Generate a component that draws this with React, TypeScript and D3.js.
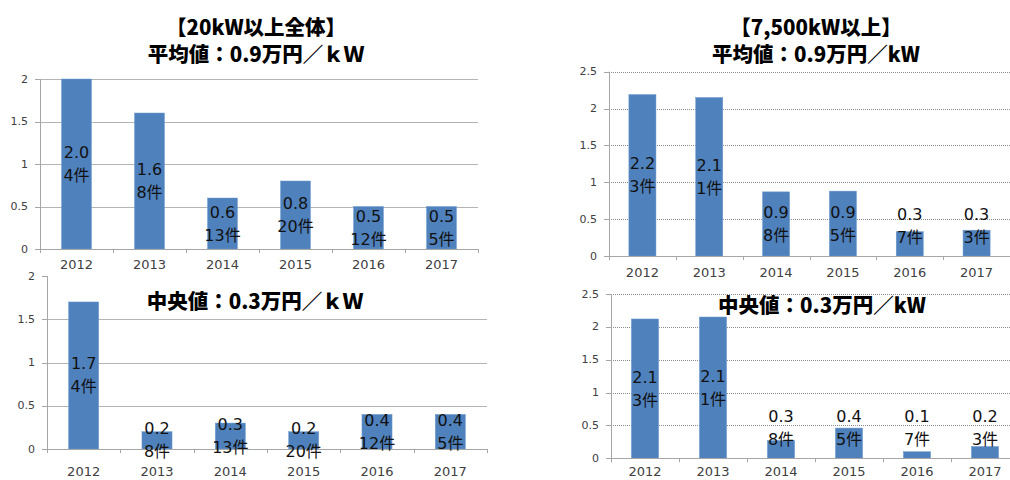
import React from "react";
import * as d3 from "d3";

// ---- data ----
const years = ["2012", "2013", "2014", "2015", "2016", "2017"];

const allAvgValues = [2.0, 1.6, 0.6, 0.8, 0.5, 0.5];
const allAvgLabels = ["2.0", "1.6", "0.6", "0.8", "0.5", "0.5"];
const allMedValues = [1.7, 0.2, 0.3, 0.2, 0.4, 0.4];
const allMedLabels = ["1.7", "0.2", "0.3", "0.2", "0.4", "0.4"];
const allCounts = [4, 8, 13, 20, 12, 5];

const bigAvgValues = [2.19, 2.15, 0.87, 0.88, 0.33, 0.35];
const bigAvgLabels = ["2.2", "2.1", "0.9", "0.9", "0.3", "0.3"];
const bigMedValues = [2.12, 2.15, 0.27, 0.46, 0.1, 0.18];
const bigMedLabels = ["2.1", "2.1", "0.3", "0.4", "0.1", "0.2"];
const bigCounts = [3, 1, 8, 5, 7, 3];

const ticksLeft = [0, 0.5, 1, 1.5, 2];
const ticksRight = [0, 0.5, 1, 1.5, 2, 2.5];

const titleAllLine1 = "【20kW以上全体】";
const titleAllLine2 = "平均値：0.9万円／ｋＷ";
const titleAllMed = "中央値：0.3万円／ｋＷ";
const titleBigLine1 = "【7,500kW以上】";
const titleBigLine2 = "平均値：0.9万円／kW";
const titleBigMed = "中央値：0.3万円／kW";

// ---- layout (positions/styles only) ----
type Panel = {
  values: number[];
  labels: string[];
  counts: number[];
  ticks: number[];
  x0: number;
  x1: number;
  yTop: number;
  yBot: number;
  barFrac: number;
  dotted: boolean;
  showTopGrid: boolean;
  xLabelDy: number;
  clampLabels: boolean;
};

const panels: Panel[] = [
  { values: allAvgValues, labels: allAvgLabels, counts: allCounts, ticks: ticksLeft,
    x0: 40, x1: 478, yTop: 79, yBot: 249, barFrac: 0.41, dotted: false, showTopGrid: true, xLabelDy: 15, clampLabels: false },
  { values: allMedValues, labels: allMedLabels, counts: allCounts, ticks: ticksLeft,
    x0: 47, x1: 487, yTop: 276, yBot: 449, barFrac: 0.41, dotted: false, showTopGrid: false, xLabelDy: 22, clampLabels: false },
  { values: bigAvgValues, labels: bigAvgLabels, counts: bigCounts, ticks: ticksRight,
    x0: 609, x1: 1010, yTop: 71.7, yBot: 256, barFrac: 0.405, dotted: true, showTopGrid: true, xLabelDy: 16, clampLabels: true },
  { values: bigMedValues, labels: bigMedLabels, counts: bigCounts, ticks: ticksRight,
    x0: 611, x1: 1019, yTop: 294, yBot: 458.3, barFrac: 0.4, dotted: true, showTopGrid: true, xLabelDy: 13.5, clampLabels: true },
];

const BAR = "#4f81bd";
const AXIS = "#a6a6a6";
const TICK_TEXT = "#404040";
const LABEL_FONT = "'DejaVu Sans', 'Noto Sans CJK JP', sans-serif";
const TITLE_FONT = "'Noto Sans CJK JP', 'Noto Sans', sans-serif";

function ChartPanel({ p }: { p: Panel }) {
  const x = d3.scaleBand<string>().domain(years).range([p.x0, p.x1]).paddingInner(0).paddingOuter(0);
  const maxT = p.ticks[p.ticks.length - 1];
  const y = d3.scaleLinear().domain([0, maxT]).range([p.yBot, p.yTop]);
  const bw = x.bandwidth() * p.barFrac;
  const crisp = (v: number) => Math.round(v) + 0.5;
  const boundaries = years.map((yr) => x(yr)!).concat([p.x1]);

  return (
    <g>
      {p.ticks.filter((t) => t > 0 && (p.showTopGrid || t < maxT)).map((t) => (
        <line key={"g" + t} x1={p.x0} x2={p.x1} y1={crisp(y(t))} y2={crisp(y(t))}
          stroke={p.dotted ? "#8c8c8c" : "#b4b4b4"} strokeWidth={1}
          strokeDasharray={p.dotted ? "1,1" : undefined} />
      ))}
      <line x1={crisp(p.x0)} x2={crisp(p.x0)} y1={y(maxT)} y2={y(0) + 4} stroke={AXIS} strokeWidth={1} />
      {p.ticks.map((t) => (
        <g key={"yt" + t}>
          <line x1={p.x0 - 5} x2={p.x0} y1={crisp(y(t))} y2={crisp(y(t))} stroke={AXIS} strokeWidth={1} />
          <text x={p.x0 - 12} y={y(t)} textAnchor="end" dominantBaseline="central"
            fontFamily={LABEL_FONT} fontSize={11} fill={TICK_TEXT}>{String(t)}</text>
        </g>
      ))}
      {years.map((yr, i) => {
        const cx = x(yr)! + x.bandwidth() / 2;
        return (
          <rect key={"b" + yr} x={cx - bw / 2} y={y(p.values[i])} width={bw}
            height={y(0) - y(p.values[i])} fill={BAR} stroke="#6f9bd0" strokeWidth={0.5} />
        );
      })}
      <line x1={p.x0 - 4} x2={p.x1} y1={crisp(y(0))} y2={crisp(y(0))} stroke={AXIS} strokeWidth={1} />
      {boundaries.map((bx, i) => (
        <line key={"xt" + i} x1={crisp(bx)} x2={crisp(bx)} y1={y(0)} y2={y(0) + 4} stroke={AXIS} strokeWidth={1} />
      ))}
      {years.map((yr) => (
        <text key={"xl" + yr} x={x(yr)! + x.bandwidth() / 2} y={y(0) + p.xLabelDy}
          textAnchor="middle" dominantBaseline="central" fontFamily={LABEL_FONT} fontSize={13} fill={TICK_TEXT}>
          {yr}
        </text>
      ))}
      {years.map((yr, i) => {
        const cx = x(yr)! + x.bandwidth() / 2;
        let cy = (y(p.values[i]) + y(0)) / 2;
        if (p.clampLabels) cy = Math.min(cy, y(0) - 30);
        return (
          <g key={"dl" + yr} fontFamily={LABEL_FONT} fontSize={16} fill="#111">
            <text x={cx} y={cy - 11.5} textAnchor="middle" dominantBaseline="central">{p.labels[i]}</text>
            <text x={cx} y={cy + 11.5} textAnchor="middle" dominantBaseline="central">{p.counts[i] + "件"}</text>
          </g>
        );
      })}
    </g>
  );
}

function Title({ x, y, text }: { x: number; y: number; text: string }) {
  return (
    <text x={x} y={y} textAnchor="middle" dominantBaseline="central" fontFamily={TITLE_FONT}
      fontWeight={900} fontSize={20.5} fill="#000">{text}</text>
  );
}

export default function App() {
  return (
    <svg width={1010} height={480} style={{ position: "absolute", left: 0, top: 0, background: "#fff" }}>
      <rect x={0} y={0} width={1010} height={480} fill="#fff" />
      {panels.map((p, i) => <ChartPanel key={i} p={p} />)}
      <Title x={256} y={26} text={titleAllLine1} />
      <Title x={256} y={53} text={titleAllLine2} />
      <Title x={255} y={300} text={titleAllMed} />
      <Title x={816} y={26} text={titleBigLine1} />
      <Title x={816} y={53} text={titleBigLine2} />
      <Title x={822} y={304} text={titleBigMed} />
    </svg>
  );
}
